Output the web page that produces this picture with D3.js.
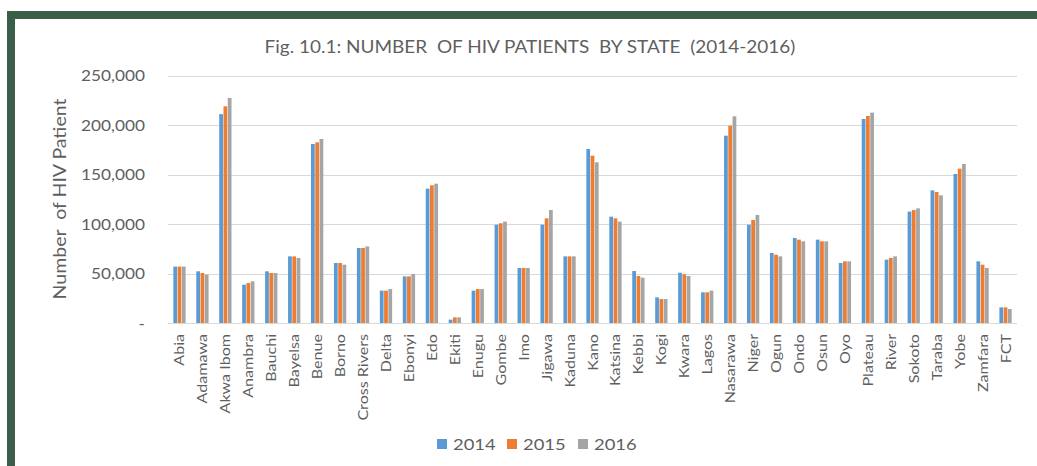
<!DOCTYPE html>
<html>
<head>
<meta charset="utf-8">
<script src="https://cdn.jsdelivr.net/npm/d3@7"></script>
<style>
  body { margin: 0; background: #fff; }
  svg text { font-family: Lato, "Open Sans", sans-serif; fill: #5f5f5f; }
</style>
</head>
<body>
<div id="chart"></div>
<script>
  var states = ["Abia", "Adamawa", "Akwa Ibom", "Anambra", "Bauchi", "Bayelsa", "Benue", "Borno",
    "Cross Rivers", "Delta", "Ebonyi", "Edo", "Ekiti", "Enugu", "Gombe", "Imo", "Jigawa", "Kaduna",
    "Kano", "Katsina", "Kebbi", "Kogi", "Kwara", "Lagos", "Nasarawa", "Niger", "Ogun", "Ondo",
    "Osun", "Oyo", "Plateau", "River", "Sokoto", "Taraba", "Yobe", "Zamfara", "FCT"];

  var v2014 = [57000, 52200, 211000, 38700, 52200, 67300, 180800, 60600, 75800, 32700, 47100, 135700,
    3400, 32700, 99300, 55600, 99300, 67300, 175800, 107400, 52500, 25900, 50800, 31000, 189200,
    99300, 70700, 85900, 84200, 60600, 206100, 64000, 112500, 134000, 150500, 62300, 15800];
  var v2015 = [57000, 50500, 218900, 40400, 50500, 67300, 182500, 60600, 75800, 32700, 47100, 139100,
    5700, 34300, 100700, 55600, 105700, 67300, 169000, 105700, 47500, 24200, 49200, 31000, 199300,
    104000, 69000, 84200, 82500, 62300, 209100, 65700, 114100, 132300, 155900, 58900, 15800];
  var v2016 = [57000, 48800, 227300, 42100, 50500, 65700, 185900, 58900, 77400, 34300, 49500, 140700,
    5700, 34300, 102400, 55600, 114100, 67300, 162300, 102400, 45800, 24200, 47500, 32700, 208700,
    109100, 67300, 82500, 82500, 62300, 212500, 67300, 115800, 129000, 160600, 55600, 14100];

  var years = ["2014", "2015", "2016"];
  var colors = ["#5B9BD5", "#ED7D31", "#A5A5A5"];
  var yTicks = [0, 50000, 100000, 150000, 200000, 250000];

  var svgWidth = 1037;
  var svgHeight = 466;
  var stretch = 1.15; // text in the picture is drawn a bit wide

  var svg = d3.select("#chart")
    .append("svg")
    .attr("width", svgWidth)
    .attr("height", svgHeight);

  // green frame on top and left
  svg.append("rect").attr("x", 7).attr("y", 11).attr("width", svgWidth - 7).attr("height", 8).attr("fill", "#3b5e48");
  svg.append("rect").attr("x", 7).attr("y", 11).attr("width", 8).attr("height", svgHeight - 11).attr("fill", "#3b5e48");

  var plotLeft = 168, plotRight = 1017, plotTop = 75.5, plotBottom = 323;

  var series = [v2014, v2015, v2016];

  var x0 = d3.scaleBand()
    .domain(states)
    .range([plotLeft, plotRight])
    .paddingInner(0.42)
    .paddingOuter(0.21);

  var x1 = d3.scaleBand()
    .domain(years)
    .range([0, x0.bandwidth()])
    .padding(0.12);

  var yScale = d3.scaleLinear()
    .domain([0, 250000])
    .range([plotBottom, plotTop]);

  // gridlines
  svg.append("g")
    .selectAll("line")
    .data(yTicks)
    .enter()
    .append("line")
    .attr("x1", plotLeft)
    .attr("x2", plotRight)
    .attr("y1", d => Math.round(yScale(d)) + 0.5)
    .attr("y2", d => Math.round(yScale(d)) + 0.5)
    .attr("stroke", "#d9d9d9")
    .attr("stroke-width", 1);

  // y axis labels
  var leftAxis = d3.axisLeft(yScale)
    .tickValues(yTicks)
    .tickSize(0)
    .tickPadding(0)
    .tickFormat(d => d === 0 ? "-" : d3.format(",")(d));

  var yAxisG = svg.append("g")
    .attr("transform", "translate(145,0)")
    .call(leftAxis);
  yAxisG.select(".domain").remove();
  yAxisG.selectAll("text")
    .style("font-size", "15px")
    .attr("dy", "0.35em")
    .attr("transform", `scale(${stretch},1)`);

  // bars
  var groups = svg.append("g")
    .selectAll("g")
    .data(states)
    .enter()
    .append("g")
    .attr("transform", d => `translate(${x0(d)},0)`);

  groups.selectAll("rect")
    .data((d, i) => years.map((y, k) => ({ year: y, value: series[k][i], k: k })))
    .enter()
    .append("rect")
    .attr("x", d => x1(d.year))
    .attr("width", x1.bandwidth())
    .attr("y", d => yScale(d.value))
    .attr("height", d => plotBottom - yScale(d.value))
    .attr("fill", d => colors[d.k]);

  // x labels
  svg.append("g")
    .selectAll("text")
    .data(states)
    .enter()
    .append("text")
    .attr("transform", d => `translate(${x0(d) + x0.bandwidth() / 2 + 5},334) rotate(-90) scale(${stretch},1)`)
    .attr("text-anchor", "end")
    .style("font-size", "14px")
    .text(d => d);

  // title
  svg.append("text")
    .attr("transform", `translate(530,53) scale(${stretch},1)`)
    .attr("text-anchor", "middle")
    .style("font-size", "16.5px")
    .style("white-space", "pre")
    .text("Fig. 10.1: NUMBER  OF HIV PATIENTS  BY STATE  (2014-2016)");

  // y axis title
  svg.append("text")
    .attr("transform", `translate(66,199) rotate(-90) scale(${stretch},1)`)
    .attr("text-anchor", "middle")
    .style("font-size", "17px")
    .style("white-space", "pre")
    .text("Number  of HIV Patient");

  // legend
  var legendX = [437, 507, 578];
  var legend = svg.append("g")
    .selectAll("g")
    .data(years)
    .enter()
    .append("g")
    .attr("transform", (d, i) => `translate(${legendX[i]},439)`);

  legend.append("rect")
    .attr("width", 10)
    .attr("height", 10)
    .attr("fill", (d, i) => colors[i]);

  legend.append("text")
    .attr("transform", `translate(16,10.5) scale(${stretch},1)`)
    .style("font-size", "16px")
    .text(d => d);
</script>
</body>
</html>
